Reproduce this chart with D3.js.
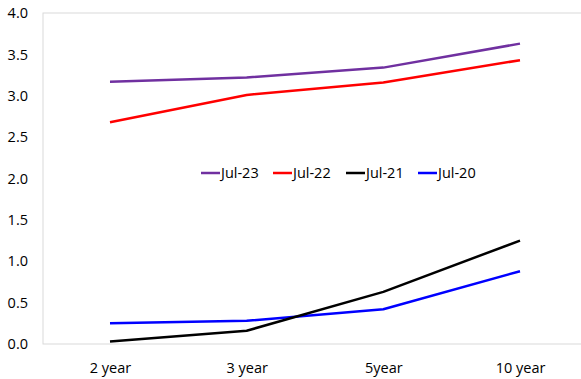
<!DOCTYPE html>
<html><head><meta charset="utf-8">
<script src="https://cdn.jsdelivr.net/npm/d3@7"></script>
<style>body{margin:0;background:#fff}svg{display:block;font-family:"Open Sans","Noto Sans",sans-serif}</style>
</head><body><div id="chart"></div>
<script>
const categories = ["2 year", "3 year", "5year", "10 year"];
const seriesNames = ["Jul-23", "Jul-22", "Jul-21", "Jul-20"];
const seriesColors = ["#7030A0", "#FF0000", "#000000", "#0000FF"];
const jul23 = [3.17, 3.22, 3.34, 3.63];
const jul22 = [2.68, 3.01, 3.16, 3.43];
const jul21 = [0.03, 0.16, 0.63, 1.25];
const jul20 = [0.25, 0.28, 0.42, 0.88];
const yTicks = [0, 0.5, 1, 1.5, 2, 2.5, 3, 3.5, 4];

const W = 581, H = 379, FS = 14.5;
const svg = d3.select("#chart").append("svg").attr("width", W).attr("height", H);
const x = d3.scalePoint().domain(categories).range([110, 520]);
const y = d3.scaleLinear().domain([0, 4]).range([344, 13]);
const left = 43, right = 600;

// frame
svg.append("rect").attr("x", left).attr("y", y(4)).attr("width", right - left).attr("height", y(0) - y(4))
  .attr("fill", "none").attr("stroke", "#d9d9d9").attr("stroke-width", 1);

const yAxis = d3.axisLeft(y).tickValues(yTicks).tickFormat(d3.format(".1f")).tickSize(0).tickPadding(15);
const gy = svg.append("g").attr("transform", `translate(${left},0)`).call(yAxis);
gy.select(".domain").remove();
gy.selectAll("text").attr("font-size", FS).attr("fill", "#000").attr("font-family", '"Open Sans","Noto Sans",sans-serif');

const xAxis = d3.axisBottom(x).tickSize(0).tickPadding(19);
const gx = svg.append("g").attr("transform", `translate(0,${y(0)})`).call(xAxis);
gx.select(".domain").remove();
gx.selectAll("text").attr("font-size", FS).attr("fill", "#000").attr("font-family", '"Open Sans","Noto Sans",sans-serif');

const data = [jul23, jul22, jul21, jul20];
const line = d3.line().x((d, i) => x(categories[i])).y(d => y(d));
[3, 2, 1, 0].forEach(k => {
  svg.append("path").datum(data[k]).attr("d", line).attr("fill", "none")
    .attr("stroke", seriesColors[k]).attr("stroke-width", 2.5).attr("stroke-linejoin", "round");
});

// legend
const legX = [201, 273, 346, 418];
const legY = 173;
seriesNames.forEach((n, k) => {
  const g = svg.append("g");
  g.append("line").attr("x1", legX[k]).attr("x2", legX[k] + 19).attr("y1", legY).attr("y2", legY)
    .attr("stroke", seriesColors[k]).attr("stroke-width", 2.5);
  g.append("text").attr("x", legX[k] + 20).attr("y", legY).attr("dy", "0.35em")
    .attr("font-size", FS).attr("fill", "#000").text(n);
});
</script></body></html>
